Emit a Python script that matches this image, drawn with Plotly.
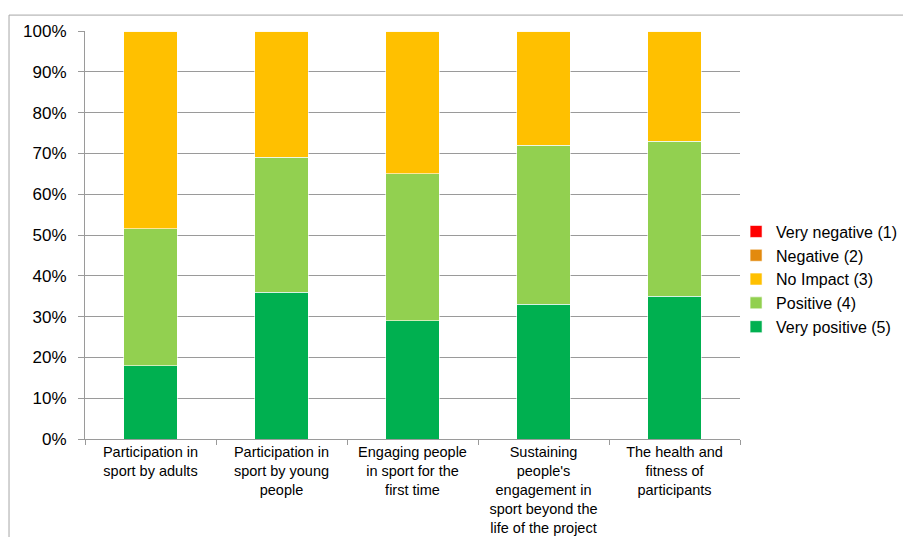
import plotly.graph_objects as go

# Survey areas (category axis), with line breaks as shown under each bar
categories = [
    "Participation in<br>sport by adults",
    "Participation in<br>sport by young<br>people",
    "Engaging people<br>in sport for the<br>first time",
    "Sustaining<br>people's<br>engagement in<br>sport beyond the<br>life of the project",
    "The health and<br>fitness of<br>participants",
]

# Share of responses per rating (%)
very_negative = [0, 0, 0, 0, 0]
negative = [0, 0, 0, 0, 0]
no_impact = [48.5, 31, 35, 28, 27]
positive = [33.5, 33, 36, 39, 38]
very_positive = [18, 36, 29, 33, 35]

# Stacked from the bottom up
series = [
    ("Very positive (5)", very_positive, "#00B050"),
    ("Positive (4)", positive, "#92D050"),
    ("No Impact (3)", no_impact, "#FFC000"),
    ("Negative (2)", negative, "#E38A0E"),
    ("Very negative (1)", very_negative, "#FF0000"),
]

font_family = "Liberation Sans, Arial, sans-serif"

fig = go.Figure()
for name, vals, color in series:
    fig.add_trace(go.Bar(
        x=categories,
        y=vals,
        name=name,
        marker=dict(color=color, line=dict(color="rgba(255,255,255,0.6)", width=1)),
        width=0.41,
    ))

fig.update_layout(
    barmode="stack",
    width=903,
    height=537,
    margin=dict(l=85, r=163, t=31, b=98, autoexpand=False),
    paper_bgcolor="white",
    plot_bgcolor="white",
    font=dict(family=font_family, size=15, color="#000000"),
    showlegend=True,
    legend=dict(
        traceorder="reversed",
        x=0.994,
        xanchor="left",
        y=0.392,
        yanchor="middle",
        font=dict(family=font_family, size=16, color="#000000"),
        itemwidth=30,
        tracegroupgap=0,
        bgcolor="rgba(0,0,0,0)",
    ),
)

fig.update_yaxes(
    range=[0, 100],
    tickvals=[0, 10, 20, 30, 40, 50, 60, 70, 80, 90, 100],
    ticktext=[f"{v}%" for v in range(0, 101, 10)],
    showgrid=True,
    gridcolor="#9a9a9a",
    gridwidth=1,
    showline=True,
    linecolor="#9a9a9a",
    linewidth=1,
    ticks="outside",
    ticklen=6,
    tickcolor="#9a9a9a",
    ticklabelstandoff=8,
    tickfont=dict(family=font_family, size=17, color="#000000"),
    zeroline=False,
    automargin=False,
    fixedrange=True,
)

fig.update_xaxes(
    showline=True,
    linecolor="#9a9a9a",
    linewidth=1,
    ticks="outside",
    tickson="boundaries",
    ticklen=5,
    tickcolor="#9a9a9a",
    tickangle=0,
    tickfont=dict(family=font_family, size=14.5, color="#000000"),
    showgrid=False,
    automargin=False,
    fixedrange=True,
)

# Chart-area frame (top and left edges visible)
fig.add_shape(
    type="line", xref="paper", yref="paper",
    x0=-0.116, x1=1.3, y0=1.039, y1=1.039,
    line=dict(color="#a6a6a6", width=1),
)
fig.add_shape(
    type="line", xref="paper", yref="paper",
    x0=-0.116, x1=-0.116, y0=1.039, y1=-0.3,
    line=dict(color="#a6a6a6", width=1),
)

fig.write_html("out.html")
